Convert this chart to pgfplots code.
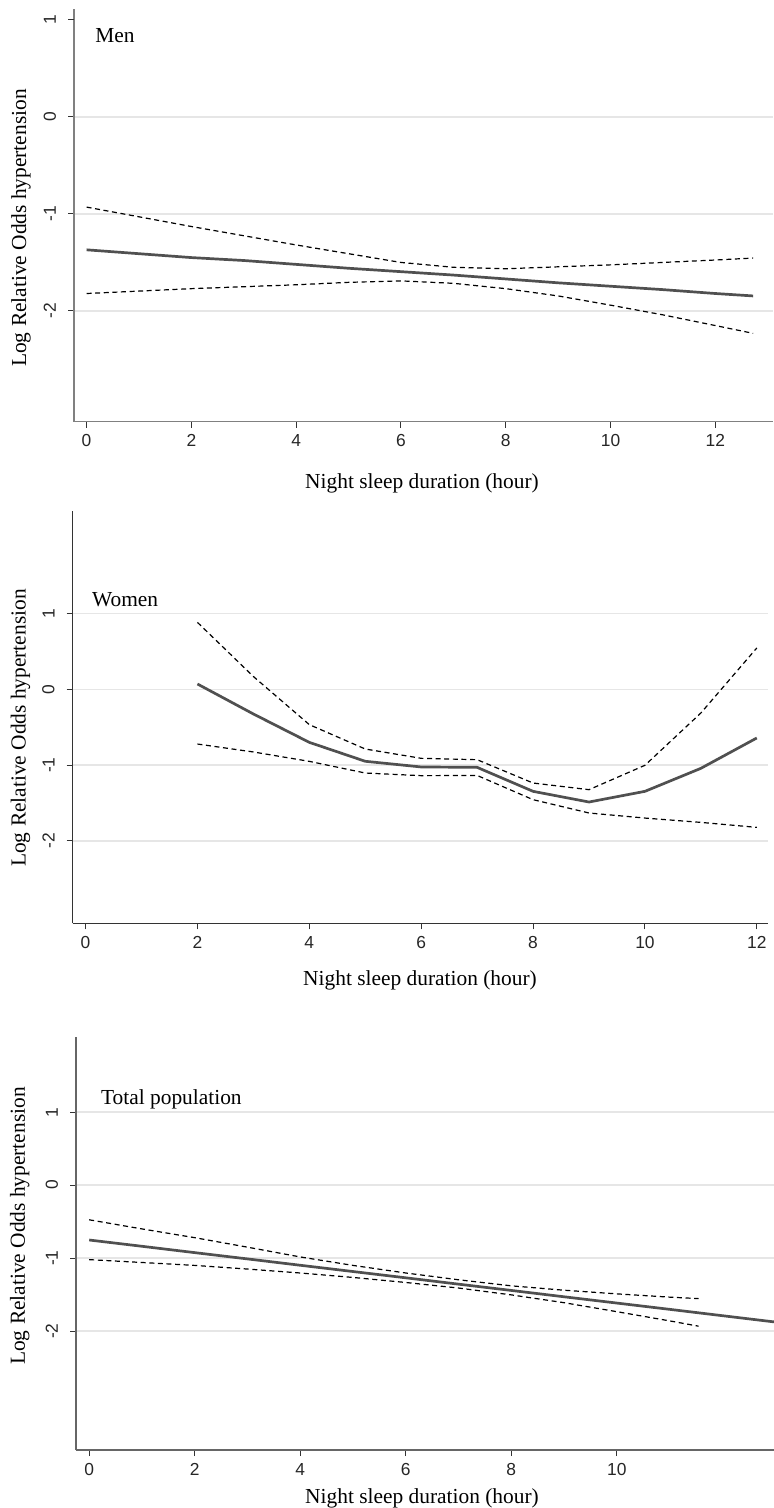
\documentclass[border=0pt]{standalone}
\usepackage{fontspec}
\setmainfont{Liberation Serif}
\newfontfamily\ticksf{Liberation Sans}
\usepackage{pgfplots}
\pgfplotsset{compat=1.18}

\definecolor{fitline}{HTML}{505050}
\definecolor{gridc}{HTML}{E6E6E6}

\pgfplotsset{
  panel/.style={
    scale only axis, anchor=north west,
    axis x line*=bottom, axis y line*=left,
    axis line style={-, line width=0.7pt},
    tick align=outside, major tick length=3pt,
    tick style={line width=0.5pt, black!80},
    major grid style={gridc, line width=0.8pt},
    ticklabel style={font=\ticksf\fontsize{8.7}{10}\selectfont, text=black!85},
    yticklabel style={rotate=90, anchor=south},
    yticklabel shift=2.5pt,
    xtick={0,2,...,12}, xticklabels={0,2,4,6,8,10,12},
  },
  fit/.style={fitline, line width=1.35pt},
  ci/.style={black, line width=0.6pt, dash pattern=on 2.5pt off 1.8pt},
}

\begin{document}
\begin{tikzpicture}
\useasboundingbox (0,0) rectangle (387pt,-754pt);

% ---- Men
\begin{axis}[panel, at={(37pt,-4.5pt)}, width=349.5pt, height=206.35pt,
  xmin=-0.24, xmax=13.1, ymin=-3.14, ymax=1.11,
  axis line style={draw=black!50},
  ytick={-2,-1,0}, yticklabels={-2,-1,0}, ymajorgrids,
  extra y ticks={1}, extra y tick labels={1}, extra y tick style={grid=none}]
\addplot[ci] coordinates {(0,-0.93) (1,-1.03) (2,-1.13) (3,-1.225) (4,-1.32) (5,-1.41) (6,-1.50) (7,-1.55) (8,-1.565) (9,-1.545) (10,-1.525) (11,-1.50) (12,-1.475) (12.72,-1.455)};
\addplot[ci] coordinates {(0,-1.82) (1,-1.795) (2,-1.77) (3,-1.75) (4,-1.73) (5,-1.705) (6,-1.69) (7,-1.715) (8,-1.77) (9,-1.845) (10,-1.94) (11,-2.04) (12,-2.15) (12.72,-2.23)};
\addplot[fit] coordinates {(0,-1.37) (1,-1.41) (2,-1.45) (3,-1.48) (4,-1.52) (5,-1.56) (6,-1.595) (7,-1.63) (8,-1.67) (9,-1.71) (10,-1.745) (11,-1.78) (12,-1.82) (12.72,-1.845)};
\end{axis}

% ---- Women
\begin{axis}[panel, at={(36.35pt,-255.35pt)}, width=347.65pt, height=206.3pt,
  xmin=-0.23, xmax=12.2, ymin=-3.09, ymax=2.36,
  axis line style={draw=black!80},
  ytick={-2,-1,0,1}, yticklabels={-2,-1,0,1}, ymajorgrids]
\addplot[ci] coordinates {(2,0.885) (3,0.17) (4,-0.466) (5,-0.788) (6,-0.911) (7,-0.929) (8,-1.237) (9,-1.325) (10,-1.003) (11,-0.312) (12,0.547)};
\addplot[ci] coordinates {(2,-0.722) (3,-0.827) (4,-0.951) (5,-1.105) (6,-1.14) (7,-1.137) (8,-1.457) (9,-1.633) (10,-1.70) (11,-1.757) (12,-1.823)};
\addplot[fit] coordinates {(2,0.071) (3,-0.325) (4,-0.70) (5,-0.95) (6,-1.025) (7,-1.03) (8,-1.347) (9,-1.488) (10,-1.347) (11,-1.043) (12,-0.642)};
\end{axis}

% ---- Total population
\begin{axis}[panel, at={(38pt,-518.5pt)}, width=349pt, height=206.5pt,
  xmin=-0.25, xmax=12.98, ymin=-3.63, ymax=2.03,
  axis line style={draw=black!60},
  xtick={0,2,...,10}, xticklabels={0,2,4,6,8,10},
  ytick={-2,-1,0,1}, yticklabels={-2,-1,0,1}, ymajorgrids]
\addplot[ci] coordinates {(0,-0.475) (1,-0.60) (2,-0.72) (3,-0.85) (4,-0.984) (5,-1.10) (6,-1.204) (7,-1.297) (8,-1.38) (9,-1.44) (10,-1.49) (11,-1.535) (11.55,-1.555)};
\addplot[ci] coordinates {(0,-1.021) (1,-1.06) (2,-1.10) (3,-1.15) (4,-1.204) (5,-1.265) (6,-1.334) (7,-1.41) (8,-1.504) (9,-1.611) (10,-1.734) (11,-1.86) (11.55,-1.933)};
\addplot[fit] coordinates {(0,-0.752) (1,-0.838) (2,-0.925) (3,-1.011) (4,-1.098) (5,-1.184) (6,-1.27) (7,-1.357) (8,-1.443) (9,-1.53) (10,-1.616) (11,-1.702) (12,-1.789) (12.98,-1.874)};
\end{axis}

% titles and labels
\begin{scope}[every node/.style={font=\fontsize{10.7}{12}\selectfont, inner sep=0pt}]
\node[anchor=base west] at (47.5pt,-21.5pt) {Men};
\node[anchor=base west] at (45.85pt,-303pt) {Women};
\node[anchor=base west] at (50.35pt,-552pt) {Total population};
\node[rotate=90, anchor=base] at (13pt,-114pt) {Log Relative Odds hypertension};
\node[rotate=90, anchor=base] at (12.75pt,-364pt) {Log Relative Odds hypertension};
\node[rotate=90, anchor=base] at (12.5pt,-613pt) {Log Relative Odds hypertension};
\node[anchor=base] at (211pt,-244pt) {Night sleep duration (hour)};
\node[anchor=base] at (210pt,-492.5pt) {Night sleep duration (hour)};
\node[anchor=base] at (211pt,-751.5pt) {Night sleep duration (hour)};
\end{scope}
\end{tikzpicture}
\end{document}
